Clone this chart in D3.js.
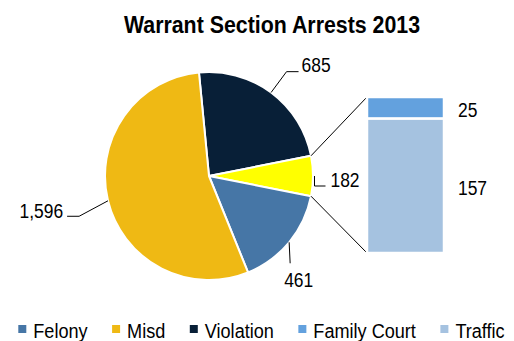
<!DOCTYPE html>
<html>
<head>
<meta charset="utf-8">
<script src="https://cdn.jsdelivr.net/npm/d3@7"></script>
<style>
  body { margin: 0; background: #fff; }
  svg { display: block; }
  text { font-family: "Liberation Sans", Arial, Helvetica, sans-serif; fill: #000; }
</style>
</head>
<body>
<svg id="chart" width="514" height="341"></svg>
<script>
// ---- data ----
const chartTitle = "Warrant Section Arrests 2013";
const pieCategories = ["Violation", "Other", "Felony", "Misd"];
const pieValues = [685, 182, 461, 1596];
const barCategories = ["Traffic", "Family Court"];   // bottom to top
const barValues = [157, 25];
const legendCategories = ["Felony", "Misd", "Violation", "Family Court", "Traffic"];

const colors = {
  "Felony": "#4676a6",
  "Misd": "#efb914",
  "Violation": "#081f37",
  "Other": "#ffff00",
  "Family Court": "#63a1de",
  "Traffic": "#a5c2e0"
};

const fmt = d3.format(",");
const svg = d3.select("#chart");

// ---- title ----
svg.append("g")
  .attr("transform", "translate(272,33) scale(0.89,1)")
  .append("text")
  .attr("text-anchor", "middle")
  .attr("font-size", 24)
  .attr("font-weight", "bold")
  .text(chartTitle);

// ---- pie ----
const cx = 209, cy = 176, r = 104;
const total = d3.sum(pieValues);
const otherIdx = pieCategories.indexOf("Other");
// rotate so the "Other" slice is centred on 3 o'clock
const before = d3.sum(pieValues.slice(0, otherIdx)) + pieValues[otherIdx] / 2;
const a0 = Math.PI / 2 - 2 * Math.PI * before / total;

const pie = d3.pie().sort(null).value(d => d.value)
  .startAngle(a0).endAngle(a0 + 2 * Math.PI);
const arcs = pie(pieCategories.map((c, i) => ({ cat: c, value: pieValues[i] })));
const arc = d3.arc().innerRadius(0).outerRadius(r);

const pieG = svg.append("g").attr("transform", `translate(${cx},${cy})`);
pieG.selectAll("path").data(arcs).join("path")
  .attr("d", arc)
  .attr("fill", d => colors[d.data.cat])
  .attr("stroke", "#fff")
  .attr("stroke-width", 2)
  .attr("stroke-linejoin", "round");

const edge = (a, rr = r) => [cx + rr * Math.sin(a), cy - rr * Math.cos(a)];

// leader lines and labels for the pie slices
const labelG = svg.append("g");
function numLabel(x, y, txt, anchor) {
  labelG.append("g")
    .attr("transform", `translate(${x},${y}) scale(0.83,1)`)
    .append("text")
    .attr("font-size", 21)
    .attr("text-anchor", anchor)
    .text(txt);
}
function leader(pts) {
  labelG.append("path")
    .attr("d", d3.line()(pts))
    .attr("fill", "none")
    .attr("stroke", "#000")
    .attr("stroke-width", 1);
}

arcs.forEach(d => {
  const mid = (d.startAngle + d.endAngle) / 2;
  const p0 = edge(mid);
  const label = fmt(d.data.value);
  if (d.data.cat === "Violation") {
    const p1 = edge(mid, 130);
    const p2 = [p1[0] + 12, p1[1]];
    leader([p0, p1, p2]);
    numLabel(p2[0] + 3, p2[1], label, "start");
  } else if (d.data.cat === "Misd") {
    const p1 = edge(mid - 0.06, 136);
    const p2 = [p1[0] - 12, p1[1]];
    leader([p0, p1, p2]);
    numLabel(p2[0] - 4, p2[1] + 2, label, "end");
  } else if (d.data.cat === "Felony") {
    const p1 = [p0[0] + 1, p0[1] + 21];
    leader([p0, p1]);
    numLabel(p0[0] + 9.5, p0[1] + 44.5, label, "middle");
  } else {
    const p1 = [p0[0] + 1.5, p0[1] + 10];
    const p2 = [p1[0] + 11, p1[1]];
    leader([[p0[0] + 1.5, p0[1]], p1, p2]);
    numLabel(p2[0] + 5, p0[1] + 11, label, "start");
  }
});

// ---- bar of pie (breakdown of "Other") ----
const barX = 367, barW = 77;
const y = d3.scaleLinear().domain([0, d3.sum(barValues)]).range([253, 97]);
let acc = 0;
const segs = barCategories.map((c, i) => {
  const s = { cat: c, value: barValues[i], y0: acc, y1: acc + barValues[i] };
  acc += barValues[i];
  return s;
});

svg.append("g").selectAll("rect").data(segs).join("rect")
  .attr("x", barX)
  .attr("width", barW)
  .attr("y", d => y(d.y1))
  .attr("height", d => y(d.y0) - y(d.y1))
  .attr("fill", d => colors[d.cat])
  .attr("stroke", "#fff")
  .attr("stroke-width", 2.5);

segs.forEach(s => {
  const mid = (y(s.y0) + y(s.y1)) / 2;
  numLabel(barX + barW + 14, mid + 9, fmt(s.value), "start");
});

// connector lines from the "Other" slice to the bar
const other = arcs[otherIdx];
leader([edge(other.startAngle), [barX, y(y.domain()[1])]]);
leader([edge(other.endAngle), [barX, y(0)]]);

// ---- legend ----
const legendG = svg.append("g");
let lx = 18.3;
const scaleLegend = 0.905;
legendCategories.forEach(c => {
  legendG.append("rect")
    .attr("x", lx).attr("y", 325)
    .attr("width", 8).attr("height", 8)
    .attr("fill", colors[c]);
  const t = legendG.append("g")
    .attr("transform", `translate(${lx + 15},337.7) scale(${scaleLegend},1)`)
    .append("text")
    .attr("font-size", 20)
    .text(c);
  const w = t.node().getComputedTextLength() * scaleLegend;
  lx += 15 + w + 24.5;
});
</script>
</body>
</html>
